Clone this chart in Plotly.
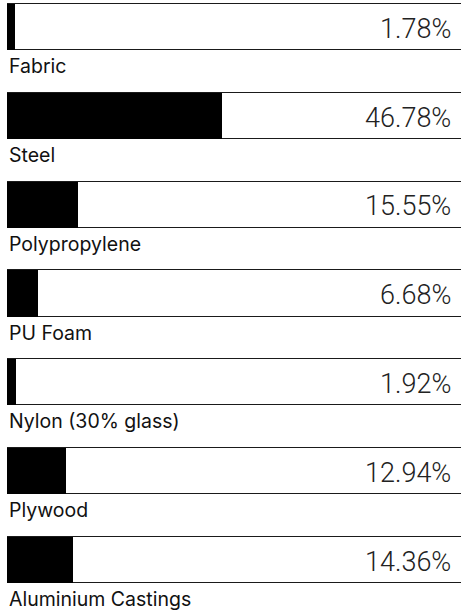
import plotly.graph_objects as go

materials = ["Fabric", "Steel", "Polypropylene", "PU Foam", "Nylon (30% glass)", "Plywood", "Aluminium Castings"]
shares = [1.78, 46.78, 15.55, 6.68, 1.92, 12.94, 14.36]
value_labels = ["1.78%", "46.78%", "15.55%", "6.68%", "1.92%", "12.94%", "14.36%"]
full_scale = [100] * len(materials)

rows = list(range(len(materials)))

fig = go.Figure()
fig.add_trace(go.Bar(
    x=full_scale, y=rows, orientation="h", width=0.52,
    marker=dict(color="white", line=dict(color="#1a1a1a", width=1)),
    hoverinfo="skip", showlegend=False,
))
fig.add_trace(go.Bar(
    x=shares, y=rows, orientation="h", width=0.52,
    marker=dict(color="black", line=dict(width=0)),
    hovertext=materials, showlegend=False,
))

for i, (m, v) in enumerate(zip(materials, value_labels)):
    fig.add_annotation(x=0.982, xref="paper", y=i + 0.02, yref="y", text=v,
                       showarrow=False, xanchor="right", yanchor="middle",
                       font=dict(family="Roboto", size=27, color="#222", weight=300))
    fig.add_annotation(x=0, xref="paper", y=i + 0.44, yref="y", text=m,
                       showarrow=False, xanchor="left", yanchor="middle",
                       font=dict(family="Inter", size=19.5, color="#111"))

pitch = 88.83
fig.update_layout(
    width=461, height=612,
    margin=dict(l=7, r=0, t=0, b=0),
    plot_bgcolor="white", paper_bgcolor="white",
    barmode="overlay", bargap=0,
    xaxis=dict(range=[0, 99.0], visible=False, fixedrange=True),
    yaxis=dict(range=[(612 - 27) / pitch, -27 / pitch], visible=False, fixedrange=True),
)

fig.write_html("out.html", config={"displayModeBar": False},
               post_script="document.body.style.margin='0';document.body.style.overflow='hidden';")
